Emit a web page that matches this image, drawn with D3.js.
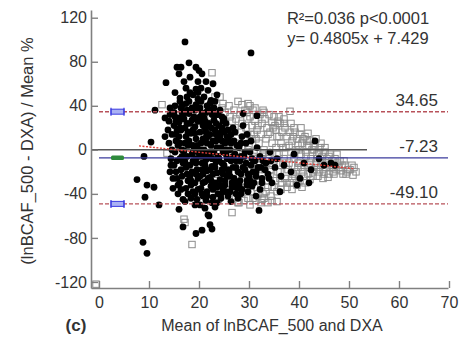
<!DOCTYPE html>
<html>
<head>
<meta charset="utf-8">
<script src="https://cdn.jsdelivr.net/npm/d3@7"></script>
<style>
  body { margin: 0; background: #fff; }
  svg { display: block; font-family: "Liberation Sans", Arial, sans-serif; }
</style>
</head>
<body>
<div id="chart"></div>
<script>
// filled circles (one group) - [mean, diff%]
const filledPts = [
  [17.2,98],[18,79],[15.6,75],[16.4,75],[16,69],[13.4,61],[19.4,75],[20.6,69],[21.4,62],[17.4,56],[19.4,55],
  [11.2,36],[30.4,88],[28.8,33],[31.6,31],[43.2,8],[10.4,7],[9,-6],[7.6,-27],[9.6,-32],[11,-34],[9.2,-43],
  [12,-50],[8.8,-84],[9.6,-94],[16.8,-70],[19.4,-76],[20.6,-73],[22.6,-72],[21.8,-59],[16,-54],[17.2,-47],
  [32,-55],[22.2,-68],[21.2,-53],[23.2,-52],[22,-60],
  [15.2,52],[16.2,47],[17,62],[18.2,66],[18.8,50],[19.8,62],[20.4,56],[21,48],[21.8,54],[22.4,45],[16.6,40],
  [18,44],[19.4,41],[20.2,38],[21.6,40],[23,38],[23.6,50],[17.6,36],[15,34],[14.2,38],[16,29],[14,26],[13.2,29],
  [22.8,60],[20,72],[23.4,32],[24.2,36],[25,28],[24.6,20],
  [14,6],[13.2,12],[14.2,-20],[14.8,-35],[14.4,-8],[13.8,18],[14.6,0],
  [15.2,30],[15,22],[15.4,14],[15.2,-2],[15,-14],[15.6,-26],[15.4,8],[15.8,-40],
  [16.2,-30],[16,25],[16.4,18],[16.2,6],[16.6,-6],[16.4,-18],[16.8,-45],[16.6,34],[16,12],
  [17,28],[17.2,20],[17.4,12],[17,-1],[17.2,-11],[17.6,-22],[17.4,-35],[17.8,4],[17.4,42],
  [18,33],[18.2,24],[18.4,15],[18,8],[18.6,-4],[18.2,-14],[18.4,-28],[18.8,-38],[18.6,-20],[18.2,52],
  [19,30],[19.2,21],[19.4,10],[19,2],[19.4,-8],[19.6,-18],[19.2,-30],[19.6,-45],[19.8,46],[19.2,36],
  [20,26],[20.2,16],[20.4,6],[20,-3],[20.6,-12],[20.2,-24],[20.4,-35],[20.8,-42],[20.6,33],[20.2,-50],
  [21,29],[21.2,20],[21.4,11],[21,0],[21.4,-9],[21.6,-19],[21.2,-29],[21.6,-38],[21.8,36],[21.4,-46],
  [22,24],[22.2,14],[22.4,4],[22,-5],[22.6,-15],[22.2,-25],[22.4,-33],[22.8,-43],[22.6,32],[22.2,42],
  [23,27],[23.2,18],[23.4,8],[23,-2],[23.4,-11],[23.6,-21],[23.2,-30],[23.8,-40],[23.6,-48],
  [24,22],[24.2,12],[24.4,2],[24,-8],[24.6,-18],[24.2,-27],[24.8,-36],[24.4,-44],[24.6,30],
  [25,16],[25.2,6],[25.4,-4],[25,-14],[25.6,-24],[25.2,-32],[25.8,-42],[25.4,24],
  [26,12],[26.2,0],[26.4,-10],[26,-20],[26.6,-30],[26.2,-38],[26.8,20],[26.4,-47],
  [27,8],[27.2,-4],[27.4,-16],[27,-26],[27.6,-35],[27.2,16],[27.8,-44],
  [28,2],[28.2,-10],[28.4,-22],[28,-32],[28.6,12],[28.4,-40],[28.8,22],
  [29,-6],[29.2,-18],[29.6,-28],[29.4,6],[29.8,-38],[29.6,14],
  [30.2,-2],[30.4,-14],[30,-24],[30.6,-33],[30.4,8],
  [31.2,-10],[31.4,-20],[31,-30],[31.6,2],[31.4,-42],
  [32.2,-6],[32.4,-16],[32.6,-26],[32.2,-36],
  [33.4,-12],[33.8,-22],[34.2,-2],[34.6,-30],[35.2,-16],[35.6,-8],[36.4,-24],[36.2,-38],[37,-14],
  [38.4,-20],[39,-4],[40.2,-26],[41,-12],[42.4,-18],[44,-8],[45,-14],[46.4,-12],[47.2,-14],[39.6,-32],[42,-30],
  [15.8,4],[16.8,-12],[17.8,-28],[18.8,18],[19.8,-26],[20.8,22],[21.8,-2],[22.8,-22],[23.8,12],[24.8,-2],
  [25.8,8],[26.8,-16],[17.6,-6],[18.6,27],[19.6,-1],[20.6,-18],[21.6,6],[22.6,-8],[23.6,2],[24.6,-12],
  [25.6,-8],[16.6,-24],[15.6,-10],[14.8,-26],[19.8,-36],[22.8,-36],[20.8,-30],[18.8,-10],[16.2,44],
  [19.2,-40],[21.2,26],[23.2,44],
  [14.6,14],[14.4,-14],[14.2,32],[15.4,-20],[15.6,18],[15.2,40],[15.8,-32],[15.4,26],
  [16.4,-36],[16.6,0],[16.2,-8],[16.8,30],[16.4,38],[16.2,20],
  [17.4,-16],[17.6,24],[17.2,6],[17.8,-40],[17.6,48],[17.2,34],[17.8,16],
  [18.4,-32],[18.8,4],[18.4,-44],[18.6,38],[18.2,-24],[18.8,-2],
  [19.4,-12],[19.2,15],[19.8,26],[19.4,-22],[19.6,4],[19.2,-50],[19.8,52],
  [20.4,-6],[20.8,10],[20.2,30],[20.6,-40],[20.4,44],[20.8,-22],[20.2,0],
  [21.4,16],[21.8,-26],[21.2,-14],[21.6,-42],[21.4,34],[21.8,12],[21.2,-4],
  [22.4,20],[22.2,-18],[22.8,8],[22.4,-28],[22.6,-48],[22.2,36],[22.8,-2],
  [23.4,24],[23.8,-6],[23.2,-16],[23.6,-34],[23.4,14],[23.8,32],
  [24.4,16],[24.8,-22],[24.2,-32],[24.6,8],[24.4,-40],[24.8,26],
  [25.4,0],[25.8,-18],[25.2,-28],[25.6,12],[25.4,-38],[25.8,18],
  [26.4,6],[26.8,-6],[26.2,-24],[26.6,-34],[26.4,14],
  [27.4,-10],[27.8,-20],[27.2,-30],[27.6,4],[27.4,-40],
  [28.4,-6],[28.8,-16],[28.2,-28],[28.6,-36],[28.4,6],
  [29.4,-12],[29.8,-22],[29.2,-2],[29.6,-32],
  [30.6,-8],[30.8,-20],[30.2,-28],[31.8,-16],[31.4,-24],[32.8,-10],[32.6,-30],[33.2,-18],[34,-26],[34.4,-10]
];

// open squares (other group)
const openPts = [
  [-0.6,-122],[12.6,41],[22.6,70],[23.2,48],[24.2,48],[24.8,42],[28.6,41],[30.8,36],[31.2,38],[38.2,35],
  [17,-63],[17.2,-66],[18.6,-86],[26.6,-57],[30.2,-50],[32.6,-45],[33.8,-48],[35.6,-47],[29,-46],
  [13.6,-3],[18.4,16],[20.2,-8],
  [22.4,30],[23.4,-28],[24,4],[24.6,38],[23.8,-45],
  [25.2,34],[25.6,-36],[25,10],
  [26.2,30],[26.6,26],[26,-42],[26.4,4],[26.8,-26],[26,40],[27.8,44],[29.8,42],
  [27,36],[27.4,28],[27.2,20],[27.6,-8],[27.4,-30],[27.8,-48],[27.2,2],
  [28.2,32],[28.6,24],[28.4,16],[28,6],[28.8,-4],[28.2,-16],[28.6,-28],[28.4,-38],[28,-48],
  [29.2,36],[29.6,28],[29.4,20],[29,10],[29.8,0],[29.2,-12],[29.6,-22],[29.4,-34],[29.8,-44],
  [30.2,30],[30.6,22],[30.4,14],[30,4],[30.8,-6],[30.2,-18],[30.6,-28],[30.4,-38],[30.8,-44],
  [31.2,26],[31.6,18],[31.4,10],[31,-2],[31.8,-14],[31.2,-24],[31.6,-34],[31.4,-46],
  [32.2,32],[32.6,24],[32.4,14],[32,6],[32.8,-4],[32.2,-12],[32.6,-22],[32.4,-32],[32.8,-40],[32.8,36],
  [33.2,28],[33.6,20],[33.4,10],[33,0],[33.8,-8],[33.2,-18],[33.6,-28],[33.4,-38],[33,-44],
  [34.6,25],[34.2,16],[34.6,6],[34,-4],[34.8,-14],[34.2,-24],[34.6,-34],[34.4,-42],[34,32],
  [35.2,22],[35.6,12],[35.4,2],[35,-10],[35.8,-20],[35.2,-28],[35.6,-38],[35,30],
  [36.2,24],[36.6,16],[36.4,6],[36,-4],[36.8,-12],[36.2,-20],[36.6,-30],[36.4,-36],[36,30],
  [37.2,20],[37.6,12],[37.4,2],[37,-8],[37.8,-18],[37.2,-26],[37.6,-34],[37,28],
  [38.2,16],[38.6,8],[38.4,-2],[38,-12],[38.8,-22],[38.2,-30],[38.6,-36],[38.4,24],
  [39.2,16],[39.6,10],[39.4,0],[39,-8],[39.8,-16],[39.2,-24],[39.6,-32],
  [40.2,14],[40.6,6],[40.4,-4],[40,-12],[40.8,-20],[40.2,-28],[40.6,-34],[40.4,20],
  [41.2,12],[41.6,4],[41.4,-6],[41,-14],[41.8,-22],[41.2,-30],[41.8,15],
  [42.2,8],[42.6,0],[42.4,-8],[42,-16],[42.8,-24],[42.2,-27],
  [43.2,4],[43.6,-4],[43.4,-12],[43,-18],[43.8,-24],[43.4,10],
  [44.2,2],[44.6,-6],[44.4,-14],[44,-20],[44.8,-26],[44.4,6],
  [45.2,-2],[45.6,-8],[45.4,-16],[45,-22],[45.8,-25],
  [46.2,-4],[46.6,-10],[46.4,-16],[46,-22],[46.8,-20],
  [47.2,-8],[47.6,-12],[47.4,-18],[47,-22],
  [48.2,-10],[48.6,-14],[48.4,-19],[48.8,-22],
  [49.2,-14],[49.8,-18],[49.4,-22],
  [50.2,-18],[50.8,-23],[51.4,-20],[50.6,-14],
  [30.6,10],[31,14],[31.8,22],[32,-18],[32.6,-8],[33.8,14],[33.8,-34],[34.2,-18],[34.8,20],[35,-34],
  [35.4,18],[35.6,-4],[36,12],[36.2,-26],[36.8,2],[37,24],[37.4,-14],[37.6,-30],[38,4],[38.6,-26],
  [38.8,12],[39,20],[39.4,-20],[39.8,-12],[39.8,4],[40,0],[40.4,-16],[40.8,10],[41,-24],[41.4,-2],
  [41.6,8],[42,4],[42.2,-12],[42.8,-20],[43,0],[43.6,-8],[43.8,-16],[44,-2],[44.6,-10],[44.8,-18],
  [45.2,2],[45.4,-12],[46,-6],[46.6,-14],[47,-16],[47.6,-4],[48,-16],[49,-10],[49.6,-20],[51,-16],
  [32.4,-48],[34.6,-46],[31.8,-40],[29.6,34],[30.2,40],[33,34],[35.8,26]
];

const meanDiff = -7.23;
const upperLoA = 34.65;
const lowerLoA = -49.10;
const regLine = [[8, 3.6], [51, -17.1]];   // fitted line end points
const zeroLineEnd = 53.6;

const xTicks = [0, 10, 20, 30, 40, 50, 60, 70];
const yTicks = [-120, -80, -40, 0, 40, 80, 120];
const statsText = ["R²=0.036 p<0.0001", "y= 0.4805x + 7.429"];

const width = 461, height = 344;
const svg = d3.select("#chart").append("svg")
  .attr("width", width)
  .attr("height", height);

const x = d3.scaleLinear().domain([-1.6, 69.8]).range([91, 448]);
const y = d3.scaleLinear().domain([-125.5, 127]).range([288, 10]);

const axisColor = "#808080";
const textColor = "#333";

// points
svg.append("g")
  .selectAll("rect")
  .data(openPts)
  .join("rect")
  .attr("x", d => x(d[0]) - 3.2)
  .attr("y", d => y(d[1]) - 3.2)
  .attr("width", 6.4)
  .attr("height", 6.4)
  .attr("fill", "none")
  .attr("stroke", "#8c8c8c")
  .attr("stroke-width", 1);

svg.append("g")
  .selectAll("circle")
  .data(filledPts)
  .join("circle")
  .attr("cx", d => x(d[0]))
  .attr("cy", d => y(d[1]))
  .attr("r", 3.4)
  .attr("fill", "#000");

// reference lines
svg.append("line")
  .attr("x1", x(-1.6)).attr("x2", x(zeroLineEnd))
  .attr("y1", y(0)).attr("y2", y(0))
  .attr("stroke", "#555").attr("stroke-width", 1.5);

svg.append("line")
  .attr("x1", x(0)).attr("x2", x(69.8))
  .attr("y1", y(meanDiff)).attr("y2", y(meanDiff))
  .attr("stroke", "#3b3b9c").attr("stroke-width", 1.2);

[upperLoA, lowerLoA].forEach(v => {
  svg.append("line")
    .attr("x1", x(0)).attr("x2", x(69.8))
    .attr("y1", y(v)).attr("y2", y(v))
    .attr("stroke", "#b8525a").attr("stroke-width", 1.4)
    .attr("stroke-dasharray", "4,2");
});

svg.append("path")
  .attr("d", d3.line().x(d => x(d[0])).y(d => y(d[1]))(regLine))
  .attr("fill", "none")
  .attr("stroke", "#e0403a")
  .attr("stroke-width", 1.4)
  .attr("stroke-dasharray", "2,1.5");

// CI markers on the left
const ciX = [2.4, 5];
[upperLoA, lowerLoA].forEach(v => {
  const g = svg.append("g");
  g.append("rect")
    .attr("x", x(ciX[0])).attr("y", y(v) - 2.5)
    .attr("width", x(ciX[1]) - x(ciX[0])).attr("height", 5)
    .attr("fill", "#aab2f4").attr("stroke", "#3a3ae0").attr("stroke-width", 1);
  ciX.forEach(cx => g.append("line")
    .attr("x1", x(cx)).attr("x2", x(cx))
    .attr("y1", y(v) - 4).attr("y2", y(v) + 4)
    .attr("stroke", "#3a3ae0").attr("stroke-width", 1.2));
});
svg.append("rect")
  .attr("x", x(ciX[0])).attr("y", y(meanDiff) - 2.2)
  .attr("width", x(ciX[1]) - x(ciX[0])).attr("height", 4.4)
  .attr("rx", 1.5)
  .attr("fill", "#2f8a3c");

// axes
const yAxis = svg.append("g")
  .attr("transform", `translate(${x(-1.6)},0)`)
  .call(d3.axisLeft(y).tickValues(yTicks).tickFormat(d => String(d))
    .tickSizeInner(-7).tickSizeOuter(0).tickPadding(4));

const xAxis = svg.append("g")
  .attr("transform", `translate(0,${y(-125.5)})`)
  .call(d3.axisBottom(x).tickValues(xTicks).tickFormat(d => String(d))
    .tickSizeInner(-7).tickSizeOuter(0).tickPadding(9));

[yAxis, xAxis].forEach(a => {
  a.select(".domain").attr("stroke", axisColor).attr("stroke-width", 1.6);
  a.selectAll(".tick line").attr("stroke", axisColor).attr("stroke-width", 1.4);
  a.selectAll(".tick text")
    .attr("fill", textColor)
    .style("font-size", "16px")
    .style("font-family", "'Liberation Sans', Arial, sans-serif");
});

// value labels for the lines
[upperLoA, meanDiff, lowerLoA].forEach(v => {
  svg.append("text")
    .attr("x", 438)
    .attr("y", y(v) - 6)
    .attr("text-anchor", "end")
    .attr("fill", textColor)
    .style("font-size", "17px")
    .text(v.toFixed(2));
});

// stats text
svg.append("g")
  .selectAll("text")
  .data(statsText)
  .join("text")
  .attr("x", 358)
  .attr("y", (d, i) => 24 + i * 19.5)
  .attr("text-anchor", "middle")
  .attr("fill", textColor)
  .style("font-size", "16.5px")
  .text(d => d);

// axis titles
svg.append("text")
  .attr("transform", "translate(33,151) rotate(-90)")
  .attr("text-anchor", "middle")
  .attr("fill", textColor)
  .style("font-size", "16.5px")
  .text("(lnBCAF_500 - DXA) / Mean %");

svg.append("text")
  .attr("x", 272)
  .attr("y", 331)
  .attr("text-anchor", "middle")
  .attr("fill", textColor)
  .style("font-size", "16px")
  .text("Mean of lnBCAF_500 and DXA");

svg.append("text")
  .attr("x", 76)
  .attr("y", 331)
  .attr("text-anchor", "middle")
  .attr("fill", textColor)
  .style("font-size", "17px")
  .style("font-weight", "bold")
  .text("(c)");
</script>
</body>
</html>
